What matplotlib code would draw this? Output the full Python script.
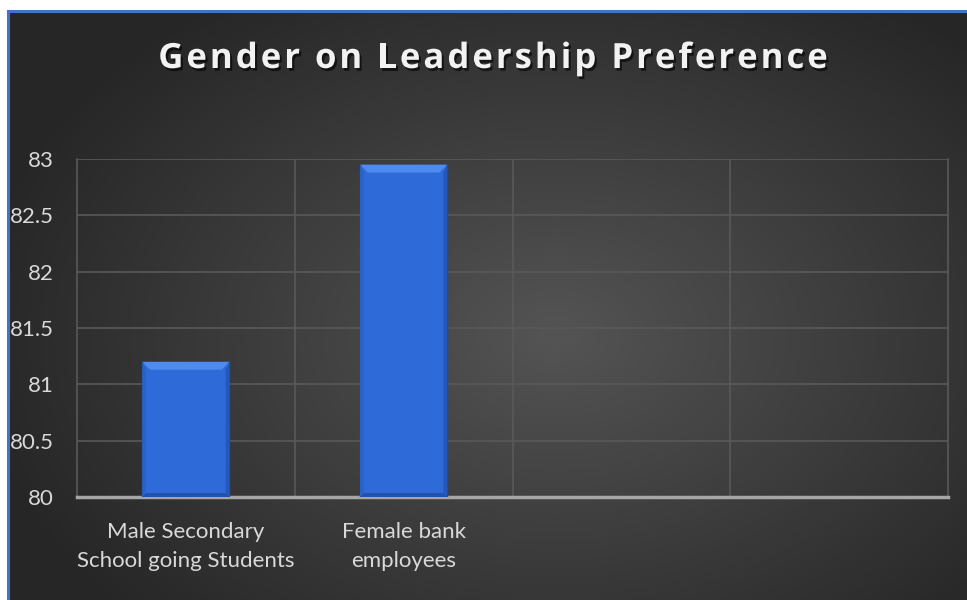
import numpy as np
import matplotlib
matplotlib.use("Agg")
import matplotlib.pyplot as plt
from matplotlib import patheffects as pe
from matplotlib.patches import Polygon

categories = ["Male Secondary\nSchool going Students", "Female bank\nemployees", "", ""]
values = [81.2, 82.95]
yticks = [80, 80.5, 81, 81.5, 82, 82.5, 83]
ytick_labels = ["80", "80.5", "81", "81.5", "82", "82.5", "83"]
title = "Gender on Leadership Preference"

W, H = 967, 600
fig = plt.figure(figsize=(W / 100, H / 100), dpi=100)
fig.patch.set_facecolor("white")

# dark radial-gradient chart background with a blue frame line
bg = fig.add_axes([9 / W, 0, 1 - 9 / W, 1 - 12 / H])
bg.set_axis_off()
yy, xx = np.mgrid[0:1:400j, 0:1:700j]
r = np.sqrt(((xx - 0.57) / 0.75) ** 2 + ((yy - 0.45) / 0.85) ** 2)
lum = np.clip(0.33 - 0.22 * r, 0.15, 0.33)
img = np.dstack([lum, lum, lum])
bg.imshow(img, extent=[0, 1, 0, 1], aspect="auto", origin="lower")
bg.set_xlim(0, 1)
bg.set_ylim(0, 1)
fig.add_artist(plt.Line2D([8 / W, 1], [1 - 10.5 / H, 1 - 10.5 / H], color="#4472C4", lw=2.2,
                          transform=fig.transFigure))
fig.add_artist(plt.Line2D([8 / W, 8 / W], [0, 1 - 10.5 / H], color="#4472C4", lw=2.2,
                          transform=fig.transFigure))

ax = fig.add_axes([77 / W, 103 / H, (948 - 77) / W, (497 - 159) / H])
ax.set_facecolor("none")
x = np.arange(len(categories))
ax.set_xlim(-0.5, len(categories) - 0.5)
ax.set_ylim(80, 83)

grid_c = "#595959"
ax.set_yticks(yticks)
ax.set_yticklabels(ytick_labels)
ax.yaxis.grid(True, color=grid_c, lw=1.2)
ax.set_xticks(x)
ax.set_xticklabels(categories, linespacing=1.55)
ax.set_xticks(np.arange(0.5, len(categories) - 1, 1), minor=True)
ax.xaxis.grid(True, which="minor", color=grid_c, lw=1.2)
ax.tick_params(axis="both", which="both", length=0)
ax.tick_params(axis="y", pad=17, labelsize=16, labelcolor="#d9d9d9")
ax.tick_params(axis="x", pad=18, labelsize=16, labelcolor="#d9d9d9")
for lab in ax.get_xticklabels() + ax.get_yticklabels():
    lab.set_fontfamily("Lato")
ax.spines["top"].set_visible(False)
ax.spines["left"].set_color(grid_c)
ax.spines["right"].set_color(grid_c)
ax.spines["left"].set_linewidth(1.2)
ax.spines["right"].set_linewidth(1.2)
ax.spines["bottom"].set_color("#a6a6a6")
ax.spines["bottom"].set_linewidth(2.5)
ax.set_axisbelow(True)

bars = ax.bar(x[:len(values)], [v - 80 for v in values], bottom=80, width=0.4,
              color="#2F6BD8", edgecolor="#1D4C9F", lw=1.0, zorder=3)

# bevelled top and side facets
for b in bars:
    x0, y0 = b.get_x(), b.get_y()
    w, h = b.get_width(), b.get_height()
    x1, y1 = x0 + w, y0 + h
    dx, dy = 0.035, 0.07
    ax.add_patch(Polygon([[x0, y1], [x1, y1], [x1 - dx, y1 - dy], [x0 + dx, y1 - dy]],
                         closed=True, facecolor="#4E8BEE", edgecolor="none", zorder=4))
    ax.add_patch(Polygon([[x0, y0], [x0 + dx * 0.5, y0 + dy * 0.5], [x0 + dx * 0.5, y1 - dy], [x0, y1]],
                         closed=True, facecolor="#2A62C8", edgecolor="none", zorder=4))
    ax.add_patch(Polygon([[x1, y0], [x1 - dx * 0.5, y0 + dy * 0.5], [x1 - dx * 0.5, y1 - dy], [x1, y1]],
                         closed=True, facecolor="#2558B8", edgecolor="none", zorder=4))
    ax.add_patch(Polygon([[x0, y0], [x1, y0], [x1 - dx * 0.5, y0 + dy * 0.5], [x0 + dx * 0.5, y0 + dy * 0.5]],
                         closed=True, facecolor="#2252AE", edgecolor="none", zorder=4))

# letter-spaced title, one glyph at a time
renderer = fig.canvas.get_renderer()
tkw = dict(color="#f2f2f2", fontsize=25, fontweight="bold", family="Open Sans", va="center",
           path_effects=[pe.withSimplePatchShadow(offset=(1.5, -2), shadow_rgbFace="black", alpha=0.6)])
spacing = 3.0
widths = []
for ch in title:
    if ch == " ":
        t = fig.text(0, 0, "n n", **tkw)
        w_full = t.get_window_extent(renderer).width
        t.set_text("nn")
        w_nn = t.get_window_extent(renderer).width
        t.remove()
        widths.append(w_full - w_nn)
    else:
        t = fig.text(0, 0, ch, **tkw)
        widths.append(t.get_window_extent(renderer).width)
        t.remove()
total = sum(widths) + spacing * (len(title) - 1)
cx, cy = 493, H - 59
xpos = cx - total / 2
for ch, w in zip(title, widths):
    if ch != " ":
        fig.text(xpos / W, cy / H, ch, ha="left", **tkw)
    xpos += w + spacing

fig.savefig("out.png", dpi=100, facecolor=fig.get_facecolor())
